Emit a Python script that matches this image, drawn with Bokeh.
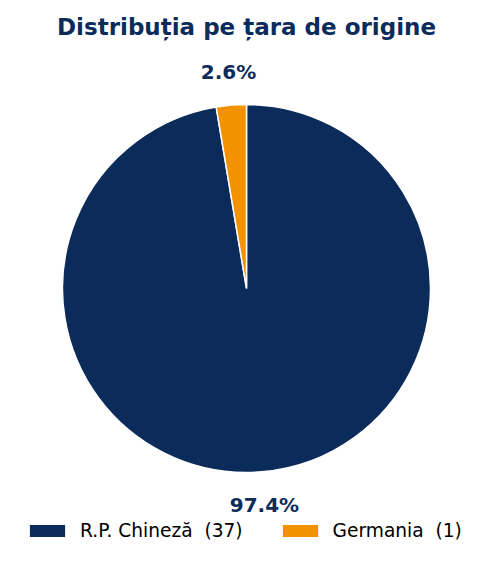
import math
from bokeh.plotting import figure
from bokeh.models import Range1d, Legend, LegendItem
from bokeh.core.properties import value
from bokeh.embed import file_html
from bokeh.resources import INLINE

title_text = "Distribuția pe țara de origine"
countries = ["R.P. Chineză", "Germania"]
counts = [37, 1]
colors = ["#0b2b5b", "#f39200"]

W, H = 476, 546
cx_px, cy_px = 246, 288  # pie centre in canvas pixels from top-left
R = 184

p = figure(width=W, height=H, output_backend="svg", toolbar_location=None,
           x_range=Range1d(-cx_px, W - cx_px), y_range=Range1d(-(H - cy_px), cy_px),
           x_axis_location=None, y_axis_location=None, min_border=0)
p.grid.visible = False
p.outline_line_color = None
p.background_fill_color = "white"

total = sum(counts)
starts, ends, mids, labels = [], [], [], []
cum = 0
for c in counts:
    a0 = math.pi / 2 - 2 * math.pi * cum / total
    cum += c
    a1 = math.pi / 2 - 2 * math.pi * cum / total
    starts.append(a0)
    ends.append(a1)
    mids.append((a0 + a1) / 2)
    labels.append(f"{100 * c / total:.1f}%")

for i in range(len(counts)):
    p.wedge(x=0, y=0, radius=R, start_angle=starts[i], end_angle=ends[i],
            direction="clock", fill_color=colors[i], line_color="white", line_width=1.5)

lx = [1.18 * R * math.cos(m) for m in mids]
ly = [1.18 * R * math.sin(m) for m in mids]
p.text(x=lx, y=ly, text=labels, text_font=value("DejaVu Sans"), text_font_style="bold",
       text_font_size="20px", text_color="#0b2b5b", text_align="center", text_baseline="middle")

p.text(x=[0], y=[cy_px - 26], text=[title_text], text_font=value("DejaVu Sans"),
       text_font_style="bold", text_font_size="23px", text_color="#0b2b5b",
       text_align="center", text_baseline="middle")

# legend proxies (not drawn: NaN positions)
proxies = []
for i in range(len(counts)):
    r = p.rect(x=[float("nan")], y=[float("nan")], width=1, height=1,
               fill_color=colors[i], line_color=None)
    proxies.append(r)

items = [LegendItem(label=f"{countries[i]}\u00a0 ({counts[i]})", renderers=[proxies[i]])
         for i in range(len(counts))]
legend = Legend(items=items, orientation="horizontal", location=(25, 5),
                glyph_width=44, glyph_height=15, label_standoff=11, spacing=35,
                padding=0, margin=0, border_line_color=None, background_fill_alpha=0,
                label_text_font="DejaVu Sans", label_text_font_size="18.6px",
                label_text_color="black")
p.add_layout(legend, "center")

open("out.html", "w").write(file_html(p, INLINE))
